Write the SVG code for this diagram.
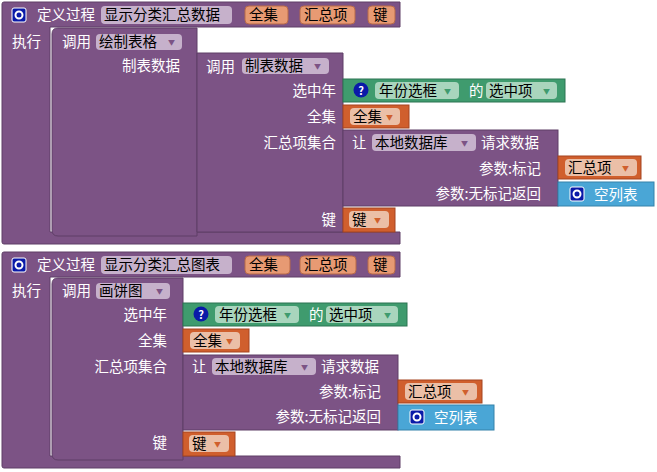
<svg xmlns="http://www.w3.org/2000/svg" width="657" height="472" viewBox="0 0 657 472">
<style>
text{font-family:"Noto Sans CJK SC","Noto Sans",sans-serif;font-size:14.5px}
.p{fill:#7c5385;stroke:#5e3e66;stroke-width:1}
.o{fill:#d05f2d;stroke:#a54520;stroke-width:1}
.g{fill:#3f9b6e;stroke:#2d7552;stroke-width:1}
.b{fill:#4aa6d6;stroke:#3582aa;stroke-width:1}
.fp{fill:#c6b1cb}
.fo{fill:#ebbfa7}
.fg{fill:#a9d5bd}
.par{fill:#e79a73;stroke:#b86a48}
.w{fill:#fff}
.k{fill:#000}
.r{text-anchor:end}
.tri{font-size:7px;fill:#7c5385}
.fo+text+.tri{fill:#d05f2d}
.fg+text+.tri{fill:#3f9b6e}
</style>
<defs>
<g id="gear"><rect x="-7" y="-7" width="14" height="14" rx="2" fill="#0a1aa8" stroke="#fff" stroke-width="1"/><circle r="3.5" fill="none" stroke="#fff" stroke-width="2"/></g>
<g id="q"><circle r="7.5" fill="#0a1aa8"/><text x="0" y="4.5" text-anchor="middle" class="w" style="font-size:11px;font-weight:bold">?</text></g>
</defs>

<g id="def1">
<path class="p" d="M2,4 q0,-2 2,-2 H400 V27 H50 V232 H400 V244 H4 q-2,0 -2,-2 Z"/>
<use href="#gear" x="19" y="15"/>
<text x="37" y="20" class="w">定义过程</text>
<rect x="101" y="6" width="131" height="18" rx="4" class="fp"/><text x="104" y="20" class="k">显示分类汇总数据</text>
<rect x="245" y="6" width="43" height="18" rx="4" class="par"/><text x="249" y="20" class="k">全集</text>
<rect x="300" y="6" width="55" height="18" rx="4" class="par"/><text x="304" y="20" class="k">汇总项</text>
<rect x="368" y="6" width="27" height="18" rx="4" class="par"/><text x="373" y="20" class="k">键</text>
<text x="12" y="47" class="w">执行</text>
</g>
<g id="call1">
<path class="p" d="M52,34 q0,-6 6,-6 H197 V236 H58 q-6,0 -6,-6 Z"/>
<text x="62" y="47" class="w">调用</text>
<rect x="96" y="34" width="86" height="16" rx="4" class="fp"/><text x="99" y="47" class="k">绘制表格</text><text x="168" y="45" class="k tri">▼</text>
<text x="180" y="71" class="w r">制表数据</text>
</g>
<g id="call2">
<path class="p" d="M197,53 H343 V232 H197 Z"/>
<text x="206" y="72" class="w">调用</text>
<rect x="242" y="58" width="87" height="16" rx="4" class="fp"/><text x="245" y="71" class="k">制表数据</text><text x="314" y="69" class="k tri">▼</text>
<text x="336" y="96" class="w r">选中年</text>
<text x="336" y="122" class="w r">全集</text>
<text x="336" y="148" class="w r">汇总项集合</text>
<text x="336" y="225" class="w r">键</text>
</g>
<g id="sel1">
<rect x="343" y="79" width="222" height="23" class="g"/>
<use href="#q" x="361" y="90"/>
<rect x="375" y="82" width="84" height="17" rx="4" class="fg"/><text x="379" y="96" class="k">年份选框</text><text x="444" y="94" class="k tri">▼</text>
<text x="469" y="96" class="w">的</text>
<rect x="486" y="82" width="71" height="17" rx="4" class="fg"/><text x="489" y="96" class="k">选中项</text><text x="543" y="94" class="k tri">▼</text>
</g>
<g id="all1">
<rect x="343" y="105" width="66" height="23" class="o"/>
<rect x="350" y="108" width="50" height="17" rx="4" class="fo"/><text x="353" y="122" class="k">全集</text><text x="386" y="120" class="k tri">▼</text>
</g>
<g id="db1">
<rect x="343" y="130" width="215" height="76" class="p"/>
<text x="352" y="148" class="w">让</text>
<rect x="372" y="134" width="104" height="17" rx="4" class="fp"/><text x="375" y="148" class="k">本地数据库</text><text x="461" y="146" class="k tri">▼</text>
<text x="481" y="148" class="w">请求数据</text>
<text x="541" y="174" class="w r">参数:标记</text>
<text x="541" y="199" class="w r">参数:无标记返回</text>
</g>
<g id="sum1">
<rect x="558" y="156" width="83" height="23" class="o"/>
<rect x="565" y="159" width="72" height="17" rx="4" class="fo"/><text x="568" y="173" class="k">汇总项</text><text x="622" y="171" class="k tri">▼</text>
</g>
<g id="empty1">
<rect x="558" y="182" width="96" height="24" class="b"/>
<use href="#gear" x="577" y="194"/>
<text x="594" y="200" class="w">空列表</text>
</g>
<g id="key1">
<rect x="343" y="208" width="52" height="24" class="o"/>
<rect x="349" y="211" width="40" height="17" rx="4" class="fo"/><text x="352" y="225" class="k">键</text><text x="374" y="223" class="k tri">▼</text>
</g>

<g id="def2">
<path class="p" d="M2,254 q0,-2 2,-2 H400 V277 H50 V456 H400 V468 H4 q-2,0 -2,-2 Z"/>
<use href="#gear" x="19" y="265"/>
<text x="37" y="270" class="w">定义过程</text>
<rect x="101" y="256" width="131" height="18" rx="4" class="fp"/><text x="104" y="270" class="k">显示分类汇总图表</text>
<rect x="245" y="256" width="45" height="18" rx="4" class="par"/><text x="249" y="270" class="k">全集</text>
<rect x="300" y="256" width="56" height="18" rx="4" class="par"/><text x="304" y="270" class="k">汇总项</text>
<rect x="368" y="256" width="27" height="18" rx="4" class="par"/><text x="373" y="270" class="k">键</text>
<text x="12" y="296" class="w">执行</text>
</g>
<g id="call3">
<path class="p" d="M52,284 q0,-6 6,-6 H183 V460 H58 q-6,0 -6,-6 Z"/>
<text x="62" y="296" class="w">调用</text>
<rect x="96" y="283" width="74" height="16" rx="4" class="fp"/><text x="99" y="296" class="k">画饼图</text><text x="156" y="294" class="k tri">▼</text>
<text x="167" y="320" class="w r">选中年</text>
<text x="167" y="346" class="w r">全集</text>
<text x="167" y="372" class="w r">汇总项集合</text>
<text x="167" y="448" class="w r">键</text>
</g>
<g id="sel2">
<rect x="183" y="303" width="224" height="23" class="g"/>
<use href="#q" x="201" y="314"/>
<rect x="215" y="306" width="84" height="17" rx="4" class="fg"/><text x="219" y="320" class="k">年份选框</text><text x="284" y="318" class="k tri">▼</text>
<text x="309" y="320" class="w">的</text>
<rect x="326" y="306" width="72" height="17" rx="4" class="fg"/><text x="329" y="320" class="k">选中项</text><text x="384" y="318" class="k tri">▼</text>
</g>
<g id="all2">
<rect x="183" y="329" width="66" height="23" class="o"/>
<rect x="190" y="332" width="50" height="17" rx="4" class="fo"/><text x="193" y="346" class="k">全集</text><text x="226" y="344" class="k tri">▼</text>
</g>
<g id="db2">
<rect x="183" y="355" width="215" height="75" class="p"/>
<text x="192" y="372" class="w">让</text>
<rect x="212" y="358" width="104" height="17" rx="4" class="fp"/><text x="215" y="372" class="k">本地数据库</text><text x="301" y="370" class="k tri">▼</text>
<text x="321" y="372" class="w">请求数据</text>
<text x="381" y="397" class="w r">参数:标记</text>
<text x="381" y="422" class="w r">参数:无标记返回</text>
</g>
<g id="sum2">
<rect x="398" y="380" width="84" height="23" class="o"/>
<rect x="405" y="383" width="72" height="17" rx="4" class="fo"/><text x="408" y="397" class="k">汇总项</text><text x="462" y="395" class="k tri">▼</text>
</g>
<g id="empty2">
<rect x="398" y="405" width="96" height="25" class="b"/>
<use href="#gear" x="417" y="417"/>
<text x="434" y="423" class="w">空列表</text>
</g>
<g id="key2">
<rect x="183" y="432" width="52" height="24" class="o"/>
<rect x="189" y="435" width="40" height="17" rx="4" class="fo"/><text x="192" y="449" class="k">键</text><text x="214" y="447" class="k tri">▼</text>
</g>
<g id="connectors"/>
</svg>
